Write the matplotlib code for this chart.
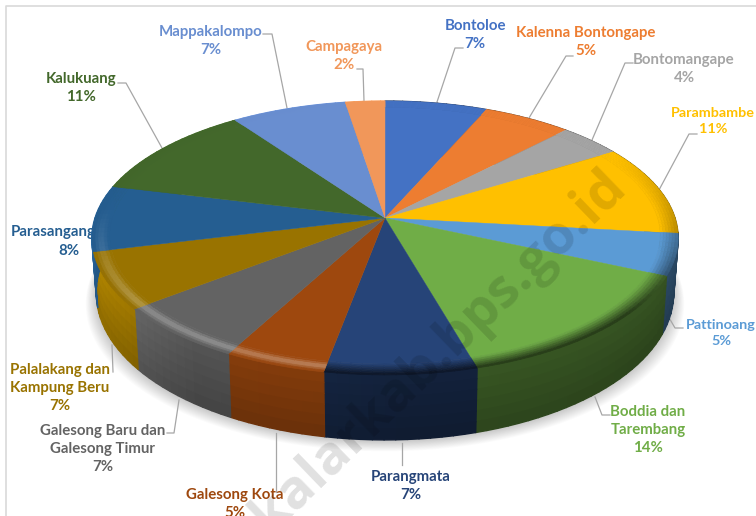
import numpy as np
import matplotlib
matplotlib.use('Agg')
import matplotlib.pyplot as plt
from matplotlib.collections import PolyCollection
from matplotlib.colors import to_rgb

# Data (clockwise from the top)
names = ['Bontoloe', 'Kalenna Bontongape', 'Bontomangape', 'Parambambe', 'Pattinoang',
         'Boddia dan\nTarembang', 'Parangmata', 'Galesong Kota',
         'Galesong Baru dan\nGalesong Timur', 'Palalakang dan\nKampung Beru',
         'Parasangang', 'Kalukuang', 'Mappakalompo', 'Campagaya']
values = [6.5, 5.6, 4.0, 10.7, 4.9, 13.9, 7.3, 4.9, 6.6, 6.7, 7.8, 11.3, 7.3, 2.5]
pct_labels = ['7%', '5%', '4%', '11%', '5%', '14%', '7%', '5%', '7%', '7%', '8%', '11%', '7%', '2%']
colors = ['#4472C4', '#ED7D31', '#A5A5A5', '#FFC000', '#5B9BD5', '#70AD47', '#264478',
          '#9E480E', '#636363', '#997300', '#255E91', '#43682B', '#698ED0', '#F1975A']

# Label centres in pixels, and the leader line of each label
label_pos = [(475, 35), (586, 42), (684, 69), (713, 121), (721, 333), (648, 430), (411, 486),
             (235, 504), (103, 449), (60, 388), (52, 241), (81, 88), (211, 41), (344, 56)]
leaders = [[(463, 48), (455, 48), (437, 102)],
           [(573, 56), (566, 56), (529, 118)],
           [(633, 63), (625, 63), (592, 140)],
           [(697, 134), (689, 134), (659, 190)],
           [(683, 328), (675, 328), (668, 316)],
           [(610, 415), (602, 415), (595, 397)],
           [(402, 465), (402, 443)],
           [(276, 492), (276, 433)],
           [(167, 433), (174, 433), (179, 400)],
           [(113, 372), (112, 345)],
           [],
           [(118, 83), (126, 83), (162, 148)],
           [(263, 34), (272, 34), (287, 108)],
           [(357, 69), (363, 69), (364, 101)]]

plt.rcParams['font.family'] = ['Lato', 'DejaVu Sans']

fig = plt.figure(figsize=(7.56, 5.16), dpi=100)
ax = fig.add_axes([0, 0, 1, 1])
ax.set_xlim(0, 756)
ax.set_ylim(516, 0)
ax.axis('off')

# Pie placement, with a little perspective
cx, cy = 385, 218
rx, ry = 290, 134
k = 0.146


def project(theta, r=1.0):
    """Top surface point for a clockwise angle in degrees"""
    t = np.radians(theta)
    u, v = r * np.sin(t), r * np.cos(t)
    f = 1 / (1 + k * v)
    return cx + rx * u * f, cy - ry * v * f


def project_low(theta, h=1.0):
    """Point on the side wall, h=0 at the top rim and h=1 at the bottom rim"""
    x, y = project(theta)
    v = np.cos(np.radians(theta))
    depth = 53 - 12 * np.minimum(v, 0)
    return cx + (x - cx) * (1 - 0.015 * h), y + depth * h


def shade(color, factor):
    return tuple(np.clip(np.array(to_rgb(color)) * factor, 0, 1))


def lighten(color, amount):
    c = np.array(color)
    return tuple(c + (1 - c) * amount)


# Border of the screenshot
ax.plot([6, 6, 756], [516, 5.5, 5.5], color='#d9d9d9', lw=1.2, zorder=1)

edges = np.concatenate([[0], np.cumsum(values)]) / sum(values) * 360
parang_end = edges[7]

# Soft shadow under the pie
ring = np.linspace(0, 360, 241)
for i in range(14):
    sx, sy = project_low(ring)
    ax.fill(cx + (sx - cx) * (1 + i * 0.0028), sy + 1 + i * 0.8, color='black',
            alpha=0.014, lw=0, zorder=1.5)

# Labels
for name, pct, color, pos in zip(names, pct_labels, colors, label_pos):
    if name == 'Parasangang':
        # the name runs under the pie, the percentage is centred further right
        ax.text(11, 232, name, color=color, fontsize=10.8, fontweight='bold', ha='left',
                va='center', zorder=2)
        ax.text(69, 251, pct, color=color, fontsize=10.8, fontweight='bold', ha='center',
                va='center', zorder=2)
        continue
    # the two labels at the right edge have to stay inside the picture
    size = 10.4 if name in ('Parambambe', 'Pattinoang') else 10.8
    ax.text(pos[0], pos[1], name + '\n' + pct, color=color, fontsize=size, fontweight='bold',
            ha='center', va='center', linespacing=1.32, ma='center', zorder=2)

for line in leaders:
    if line:
        xs, ys = zip(*line)
        ax.plot(xs, ys, color='#a6a6a6', lw=0.9, zorder=2)

# Side wall
side_angles = [0, 100, 180, parang_end, parang_end + 0.5, 215, 235, 250, 270, 360]
side_factor = [0.42, 0.42, 0.45, 0.48, 0.74, 0.76, 0.95, 1.04, 1.0, 1.0]
polys, cols = [], []
levels = np.linspace(0, 1, 7)
for i, color in enumerate(colors):
    steps = np.arange(edges[i], edges[i + 1], 2.0)
    steps = np.append(steps, edges[i + 1])
    for a, b in zip(steps[:-1], steps[1:]):
        f = np.interp((a + b) / 2, side_angles, side_factor)
        for h0, h1 in zip(levels[:-1], levels[1:]):
            x0, y0 = project_low(a, h0)
            x1, y1 = project_low(b, h0)
            x2, y2 = project_low(b, h1)
            x3, y3 = project_low(a, h1)
            polys.append([(x0, y0), (x1, y1), (x2, y2), (x3, y3)])
            cols.append(shade(color, f * (1.12 - 0.22 * (h0 + h1) / 2)))
side = PolyCollection(polys, facecolors=cols, edgecolors=cols, linewidths=1.0, zorder=3)
ax.add_collection(side)

# Top surface
for i, color in enumerate(colors):
    steps = np.append(np.arange(edges[i], edges[i + 1], 1.0), edges[i + 1])
    x, y = project(steps, 0.94)
    ax.fill(np.append(cx, x), np.append(cy, y), color=color, lw=0.3, zorder=4)

# Bevel along the rim: dark on the right, a highlight on the left
dark_angles = [0, 60, 100, 130, parang_end, parang_end + 0.5, 360]
dark_amount = [0.0, 0.0, 0.3, 0.7, 0.7, 0.05, 0.0]
light_angles = [0, parang_end, parang_end + 0.5, 235, 255, 275, 360]
light_amount = [0.0, 0.0, 0.3, 0.25, 0.12, 0.0, 0.0]
polys, cols = [], []
rings = np.linspace(0.94, 1.0, 7)
for i, color in enumerate(colors):
    steps = np.append(np.arange(edges[i], edges[i + 1], 2.0), edges[i + 1])
    for a, b in zip(steps[:-1], steps[1:]):
        mid = (a + b) / 2
        dark = np.interp(mid, dark_angles, dark_amount)
        light = np.interp(mid, light_angles, light_amount)
        for r0, r1 in zip(rings[:-1], rings[1:]):
            t = ((r0 + r1) / 2 - 0.94) / 0.06
            c = shade(color, 1 - dark * t)
            c = lighten(c, light * np.sin(np.pi * t) ** 2)
            x0, y0 = project(a, r0)
            x1, y1 = project(b, r0)
            x2, y2 = project(b, r1)
            x3, y3 = project(a, r1)
            polys.append([(x0, y0), (x1, y1), (x2, y2), (x3, y3)])
            cols.append(c)
bevel = PolyCollection(polys, facecolors=cols, edgecolors=cols, linewidths=0.5, zorder=5)
ax.add_collection(bevel)

# Watermark
ax.text(420, 372, 'takalarkab.bps.go.id', color='black', alpha=0.12, fontsize=39,
        fontweight='bold', family='Open Sans', rotation=44, rotation_mode='anchor',
        ha='center', va='center', zorder=6)

fig.savefig('out.png', dpi=100, facecolor='white')
